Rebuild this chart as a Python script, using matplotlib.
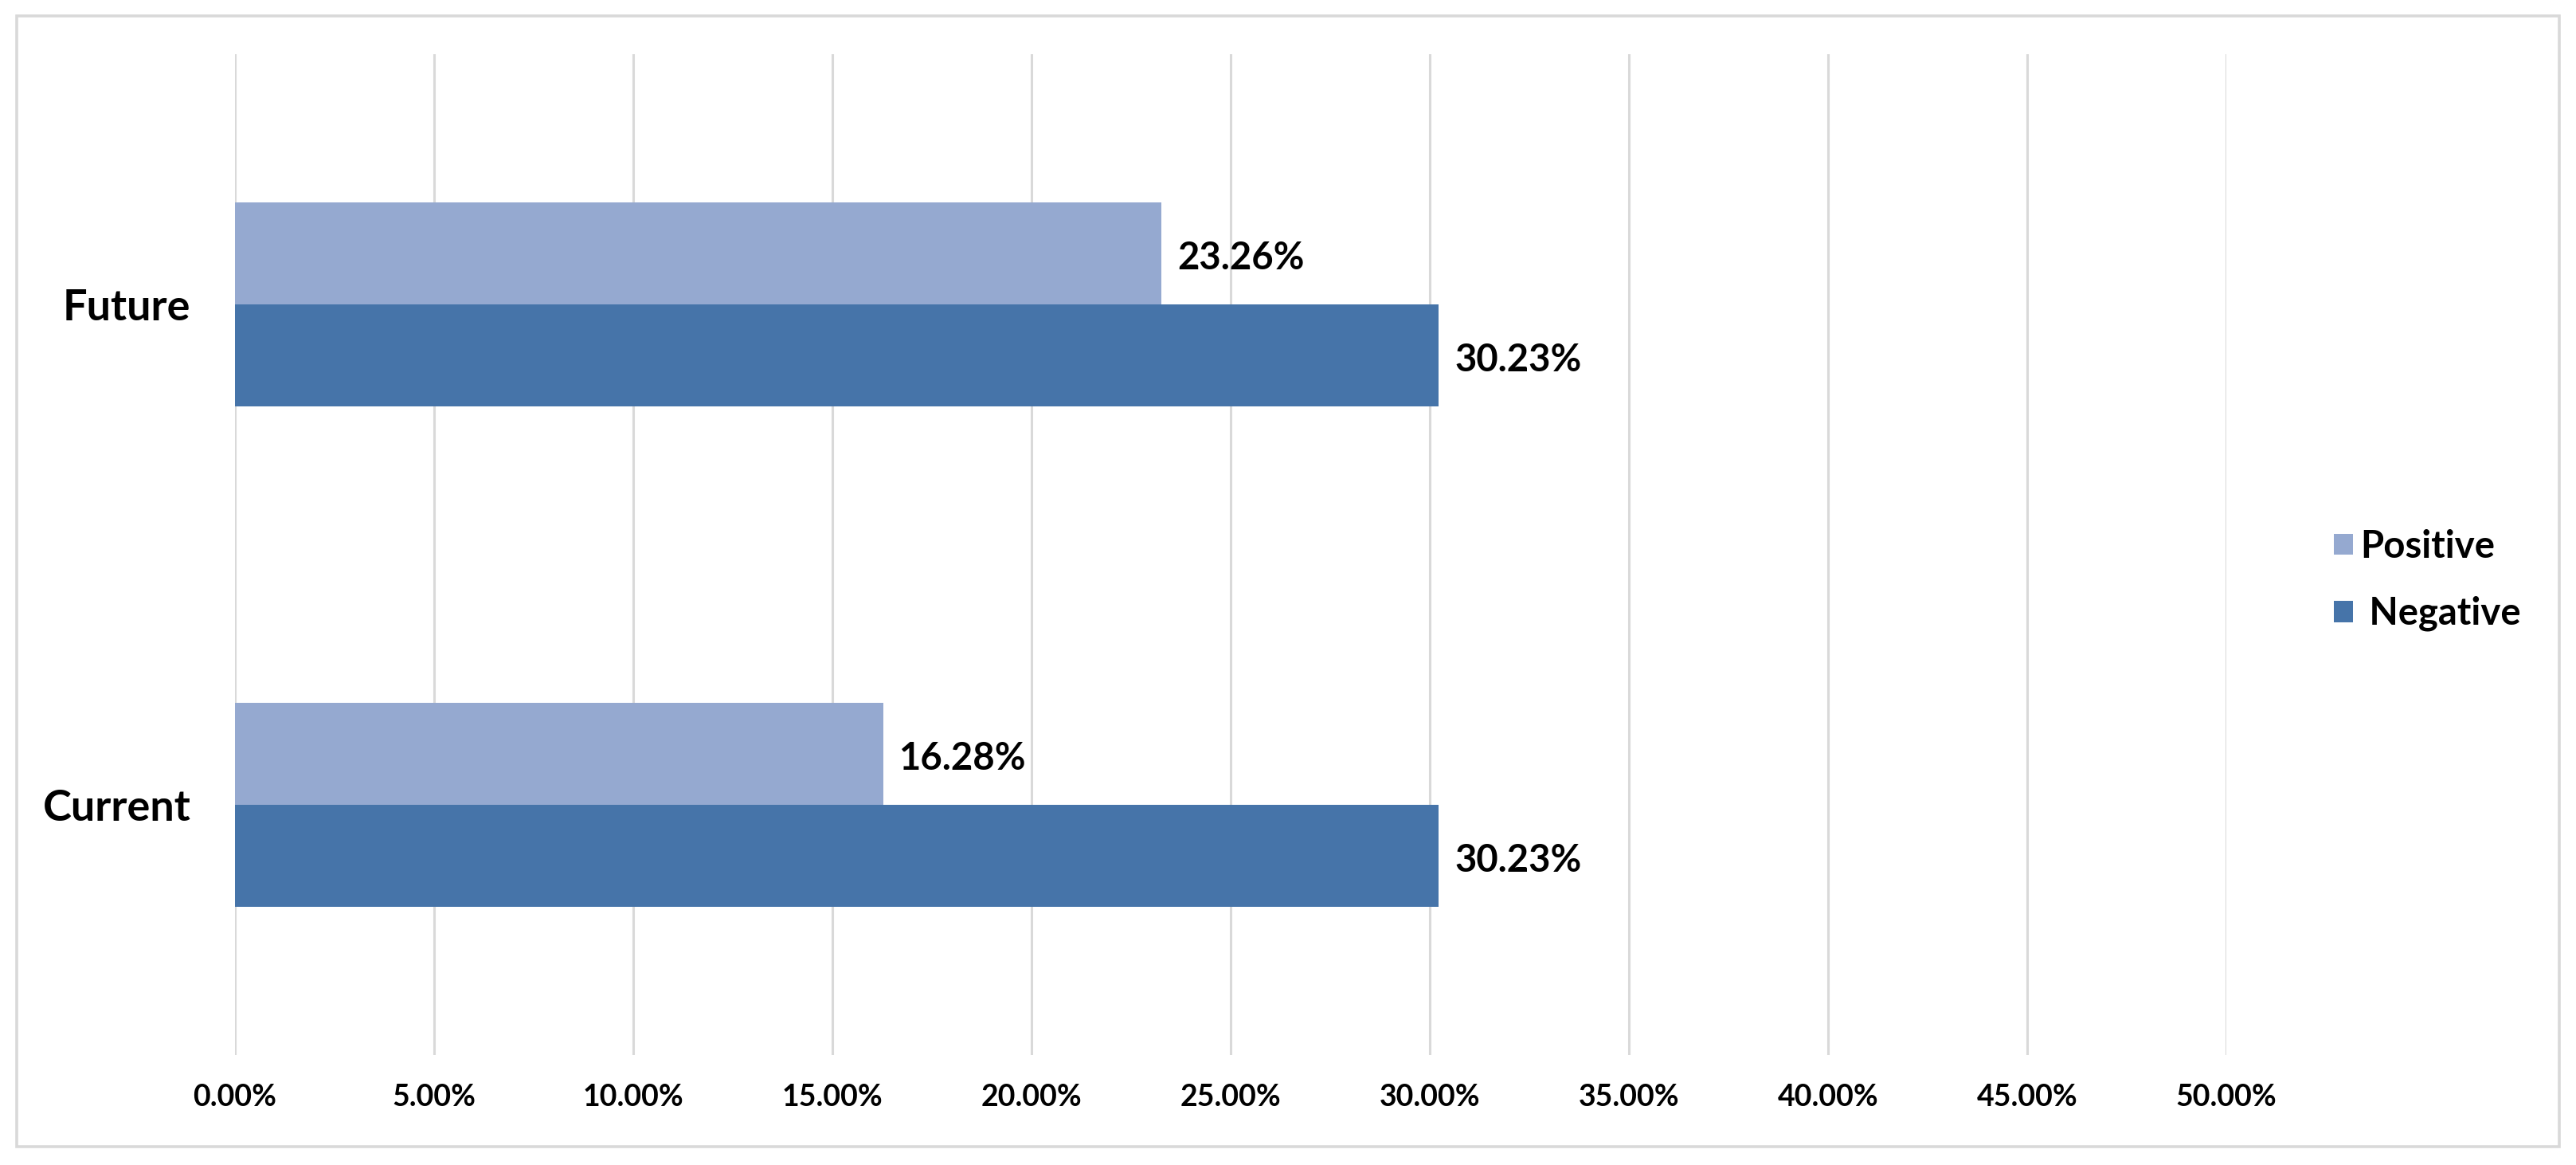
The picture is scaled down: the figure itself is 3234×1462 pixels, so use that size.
import matplotlib
matplotlib.use('Agg')
from matplotlib import pyplot as plt
from matplotlib.patches import Rectangle
from matplotlib.ticker import PercentFormatter
import numpy as np

# data
categories = ['Current', 'Future']
positive = [16.28, 23.26]
negative = [30.23, 30.23]
series_names = ['Positive', ' Negative']
x_ticks = [0, 5, 10, 15, 20, 25, 30, 35, 40, 45, 50]

plt.rcParams['font.family'] = ['Lato', 'DejaVu Sans']
plt.rcParams['font.weight'] = 'bold'

pos_color = '#95A9D0'
neg_color = '#4674A9'
grid_color = '#D9D9D9'

fig = plt.figure(figsize=(16.17, 7.31), dpi=200)
ax = fig.add_axes([0.0912, 0.0945, 0.773, 0.859])

y = np.arange(len(categories))
h = 0.204
b1 = ax.barh(y + h / 2, positive, height=h, color=pos_color, label=series_names[0], zorder=3)
b2 = ax.barh(y - h / 2, negative, height=h, color=neg_color, label=series_names[1], zorder=3)

# data labels
for bars in (b1, b2):
    for r in bars:
        w = r.get_width()
        ax.text(w + 0.4, r.get_y() + r.get_height() / 2 - 0.01, '%.2f%%' % w,
                va='center', ha='left', fontsize=17, fontweight='bold', color='black')

ax.set_xlim(0, 50)
ax.set_ylim(-0.5, 1.5)
ax.set_xticks(x_ticks)
ax.xaxis.set_major_formatter(PercentFormatter(decimals=2))
ax.set_yticks(y)
ax.set_yticklabels(categories, fontsize=19.5, fontweight='bold')
ax.tick_params(axis='x', length=0, pad=13, labelsize=13.5)
ax.tick_params(axis='y', length=0, pad=20)
for lab in ax.get_xticklabels():
    lab.set_fontweight('bold')

ax.grid(True, axis='x', color=grid_color, linewidth=1.1, zorder=0)
for s in ax.spines.values():
    s.set_visible(False)

# legend on the right
ax.legend(loc='center left', bbox_to_anchor=(0.906, 0.502), bbox_transform=fig.transFigure,
          frameon=False, fontsize=17, handlelength=0.5, handleheight=0.5,
          handletextpad=0.2, labelspacing=0.85, borderpad=0, borderaxespad=0)

# chart border
fig.patches.append(Rectangle((0.0064, 0.0155), 0.9872, 0.9705, transform=fig.transFigure,
                             fill=False, edgecolor=grid_color, linewidth=1.3))

fig.savefig('out.png', dpi=200, facecolor='white')
